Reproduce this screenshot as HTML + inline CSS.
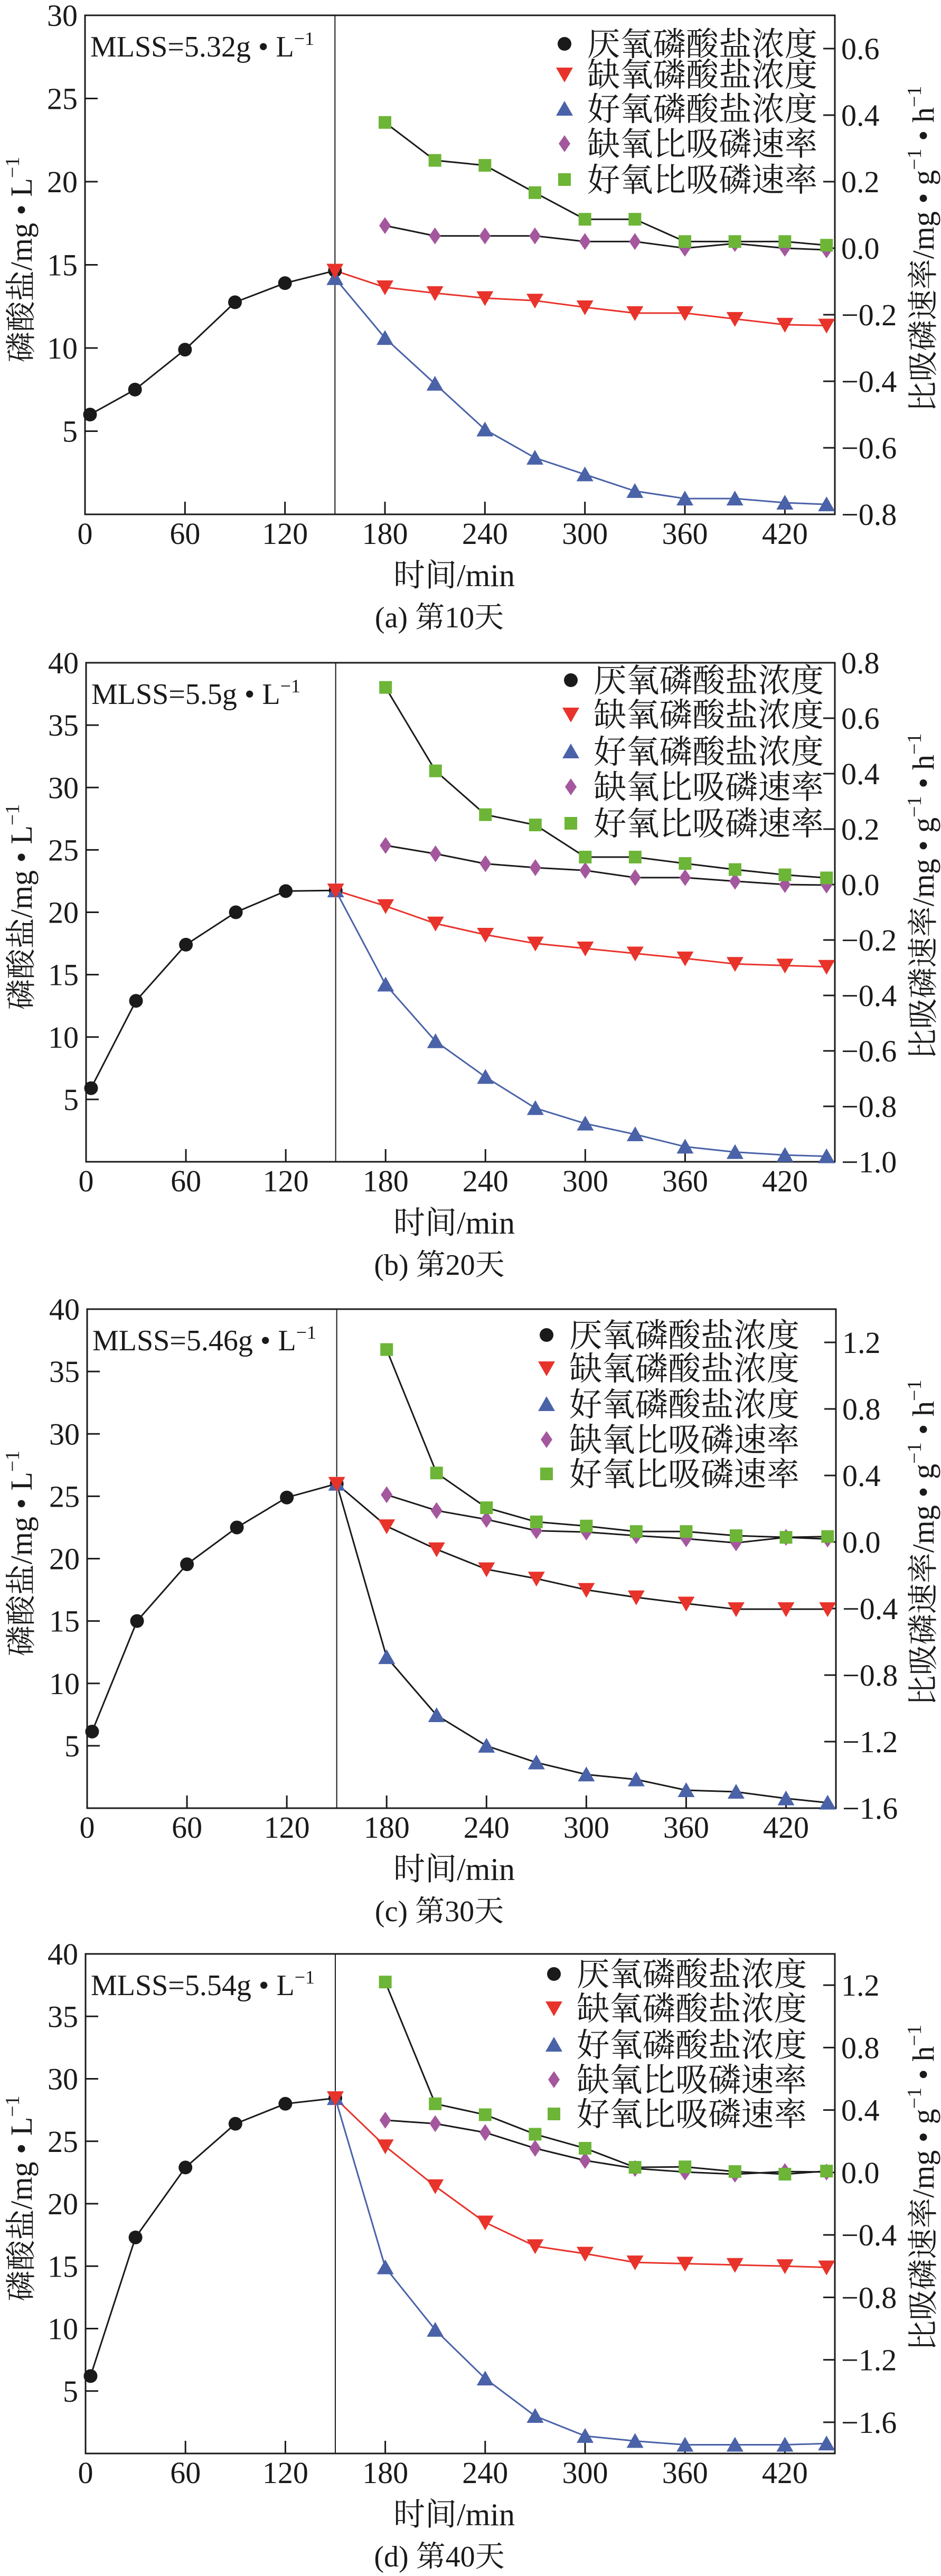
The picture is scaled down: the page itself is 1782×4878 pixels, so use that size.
<!DOCTYPE html>
<html><head><meta charset="utf-8">
<style>
html,body{margin:0;padding:0;background:#fff;}
svg{display:block;}
text{font-family:"Liberation Serif","Noto Serif CJK SC","Noto Sans CJK SC",serif;fill:#1a1a1a;}
</style></head>
<body>
<svg id="fig" xmlns="http://www.w3.org/2000/svg" width="1782" height="4878" viewBox="0 0 1782 4878"></svg>
<script>
// ---- shared data ----
const timeAnaerobic = [3, 30, 60, 90, 120, 150];
const timePost = [150, 180, 210, 240, 270, 300, 330, 360, 390, 420, 445];
const timeRate = [180, 210, 240, 270, 300, 330, 360, 390, 420, 445];
const xTicks = [0, 60, 120, 180, 240, 300, 360, 420];

// ---- panel (a) day 10 ----
const aAnaerobic = [6.0, 7.5, 9.9, 12.75, 13.9, 14.65];
const aAnoxic = [14.65, 13.65, 13.3, 13.0, 12.85, 12.45, 12.1, 12.1, 11.75, 11.4, 11.35];
const aAerobic = [14.2, 10.6, 7.85, 5.1, 3.4, 2.4, 1.4, 0.95, 0.95, 0.7, 0.6];
const aAnoxicRate = [0.068, 0.037, 0.037, 0.037, 0.02, 0.02, 0.0, 0.014, 0.0, -0.005];
const aAerobicRate = [0.378, 0.264, 0.249, 0.167, 0.087, 0.087, 0.02, 0.02, 0.02, 0.009];
const aLeftTicks = [5, 10, 15, 20, 25, 30];
const aRightTicks = ["0.6", "0.4", "0.2", "0.0", "-0.2", "-0.4", "-0.6", "-0.8"];

// ---- panel (b) day 20 ----
const bAnaerobic = [5.9, 12.9, 17.4, 20.0, 21.7, 21.75];
const bAnoxic = [21.75, 20.5, 19.1, 18.2, 17.5, 17.1, 16.7, 16.3, 15.86, 15.73, 15.63];
const bAerobic = [21.75, 14.2, 9.66, 6.8, 4.3, 3.06, 2.2, 1.21, 0.78, 0.54, 0.44];
const bAnoxicRate = [0.141, 0.111, 0.075, 0.061, 0.051, 0.025, 0.025, 0.012, 0.0, -0.002];
const bAerobicRate = [0.711, 0.41, 0.252, 0.215, 0.099, 0.099, 0.076, 0.054, 0.035, 0.024];
const bLeftTicks = [5, 10, 15, 20, 25, 30, 35, 40];
const bRightTicks = ["0.8", "0.6", "0.4", "0.2", "0.0", "-0.2", "-0.4", "-0.6", "-0.8", "-1.0"];

// ---- panel (c) day 30 ----
const cAnaerobic = [6.14, 15.0, 19.55, 22.5, 24.9, 26.0];
const cAnoxic = [26.0, 22.6, 20.75, 19.15, 18.4, 17.5, 16.9, 16.4, 15.95, 15.95, 15.95];
const cAerobic = [26.0, 12.1, 7.45, 5.0, 3.66, 2.7, 2.3, 1.44, 1.31, 0.78, 0.44];
const cAnoxicRate = [0.284, 0.189, 0.136, 0.068, 0.06, 0.038, 0.02, -0.005, 0.028, 0.018];
const cAerobicRate = [1.157, 0.415, 0.206, 0.121, 0.096, 0.063, 0.063, 0.038, 0.028, 0.033];
const cLeftTicks = [5, 10, 15, 20, 25, 30, 35, 40];
const cRightTicks = ["1.2", "0.8", "0.4", "0.0", "-0.4", "-0.8", "-1.2", "-1.6"];

// ---- panel (d) day 40 ----
const dAnaerobic = [6.2, 17.3, 22.9, 26.4, 28.0, 28.45];
const dAnoxic = [28.45, 24.6, 21.4, 18.5, 16.6, 16.0, 15.3, 15.2, 15.1, 15.0, 14.9];
const dAerobic = [28.45, 14.9, 9.9, 6.0, 3.0, 1.4, 1.0, 0.7, 0.7, 0.7, 0.8];
const dAnoxicRate = [0.335, 0.313, 0.256, 0.155, 0.077, 0.026, 0.003, -0.011, 0.006, 0.003];
const dAerobicRate = [1.22, 0.44, 0.37, 0.245, 0.155, 0.033, 0.036, 0.006, -0.011, 0.009];
const dLeftTicks = [5, 10, 15, 20, 25, 30, 35, 40];
const dRightTicks = ["1.2", "0.8", "0.4", "0.0", "-0.4", "-0.8", "-1.2", "-1.6"];

const legendLabels = ["厌氧磷酸盐浓度", "缺氧磷酸盐浓度", "好氧磷酸盐浓度", "缺氧比吸磷速率", "好氧比吸磷速率"];

const RED = "#e8332b", BLUE = "#4a62a8", PURPLE = "#a4579d", GREEN = "#6cb537", BLACK = "#1a1a1a";

const panels = [
  {id:"a", L:161, R:1581, T:29, B:974, yMax:30, rMin:-0.8, rMax:0.7, mlss:"MLSS=5.32g • L", cap:"(a) 第10天",
   ana:aAnaerobic, anox:aAnoxic, aer:aAerobic, anoxR:aAnoxicRate, aerR:aAerobicRate, lt:aLeftTicks, rt:aRightTicks,
   redLine:RED, blueLine:BLUE, legX:1069, legRows:[54,112,177,243,311], legEnd:1548},
  {id:"b", L:163, R:1581, T:1255, B:2200, yMax:40, rMin:-1.0, rMax:0.8, mlss:"MLSS=5.5g • L", cap:"(b) 第20天",
   ana:bAnaerobic, anox:bAnoxic, aer:bAerobic, anoxR:bAnoxicRate, aerR:bAerobicRate, lt:bLeftTicks, rt:bRightTicks,
   redLine:RED, blueLine:BLUE, legX:1081, legRows:[33,98,168,235,304], legEnd:1560},
  {id:"c", L:165, R:1583, T:2479, B:3424, yMax:40, rMin:-1.6, rMax:1.4, mlss:"MLSS=5.46g • L", cap:"(c) 第30天",
   ana:cAnaerobic, anox:cAnoxic, aer:cAerobic, anoxR:cAnoxicRate, aerR:cAerobicRate, lt:cLeftTicks, rt:cRightTicks,
   redLine:BLACK, blueLine:BLACK, legX:1035, legRows:[49,112,180,247,312], legEnd:1514},
  {id:"d", L:162, R:1581, T:3700, B:4646, yMax:40, rMin:-1.8, rMax:1.4, mlss:"MLSS=5.54g • L", cap:"(d) 第40天",
   ana:dAnaerobic, anox:dAnoxic, aer:dAerobic, anoxR:dAnoxicRate, aerR:dAerobicRate, lt:dLeftTicks, rt:dRightTicks,
   redLine:RED, blueLine:BLUE, legX:1049, legRows:[38,103,172,238,303], legEnd:1528}
];

const svg = document.getElementById("fig");
const NS = "http://www.w3.org/2000/svg";
function mk(tag, attrs, parent){
  const e = document.createElementNS(NS, tag);
  for (const k in attrs) e.setAttribute(k, attrs[k]);
  (parent || svg).appendChild(e);
  return e;
}
function marker(g, kind, cx, cy, color){
  let e;
  if (kind === "circle") e = mk("circle", {cx:cx, cy:cy, r:13, fill:color}, g);
  else if (kind === "down") e = mk("polygon", {points:`${cx-16},${cy-13} ${cx+16},${cy-13} ${cx},${cy+15}`, fill:color}, g);
  else if (kind === "up") e = mk("polygon", {points:`${cx-16},${cy+13} ${cx+16},${cy+13} ${cx},${cy-15}`, fill:color}, g);
  else if (kind === "diamond") e = mk("polygon", {points:`${cx},${cy-16} ${cx+11},${cy} ${cx},${cy+16} ${cx-11},${cy}`, fill:color}, g);
  else e = mk("rect", {x:cx-12, y:cy-12, width:24, height:24, fill:color}, g);
  return e;
}

panels.forEach(p => {
  const g = mk("g", {});
  
  
  const xs = t => p.L + t / 450 * (p.R - p.L);
  const ys = v => p.B - v / p.yMax * (p.B - p.T);
  const yr = v => p.B - (v - p.rMin) / (p.rMax - p.rMin) * (p.B - p.T);

  // frame
  const fr = mk("rect", {x:p.L, y:p.T, width:p.R-p.L, height:p.B-p.T, fill:"none", stroke:BLACK, "stroke-width":3}, g);
  
  

  // x ticks
  xTicks.forEach(t => {
    const x = xs(t);
    if (t > 0) mk("line", {x1:x, y1:p.B, x2:x, y2:p.B-24, stroke:BLACK, "stroke-width":3}, g);
    const tl = mk("text", {x:x, y:p.B+56, "font-size":58, "text-anchor":"middle"}, g);
    tl.textContent = t;
    
    
  });
  // left ticks
  p.lt.forEach(v => {
    const y = ys(v);
    if (v < p.yMax) mk("line", {x1:p.L, y1:y, x2:p.L+24, y2:y, stroke:BLACK, "stroke-width":3}, g);
    const tl = mk("text", {x:p.L-14, y:y+20, "font-size":58, "text-anchor":"end"}, g);
    tl.textContent = v;
    
    
  });
  // right ticks
  p.rt.forEach(s => {
    const v = parseFloat(s);
    const y = yr(v);
    mk("line", {x1:p.R, y1:y, x2:p.R-22, y2:y, stroke:BLACK, "stroke-width":3}, g);
    const tl = mk("text", {x:p.R+12, y:y+20, "font-size":58}, g);
    tl.textContent = s.replace("-", "−");
    
    
  });

  // phase divider
  const dv = mk("line", {x1:xs(150), y1:p.T, x2:xs(150), y2:p.B, stroke:BLACK, "stroke-width":2}, g);
  
  

  // series lines
  const pts = (ts, vs, f) => ts.map((t, i) => xs(t) + "," + f(vs[i])).join(" ");
  mk("polyline", {points:pts(timeRate, p.aerR, yr), fill:"none", stroke:BLACK, "stroke-width":3}, g);
  mk("polyline", {points:pts(timeRate, p.anoxR, yr), fill:"none", stroke:BLACK, "stroke-width":3}, g);
  mk("polyline", {points:pts(timeAnaerobic, p.ana, ys), fill:"none", stroke:BLACK, "stroke-width":3}, g);
  mk("polyline", {points:pts(timePost, p.anox, ys), fill:"none", stroke:p.redLine, "stroke-width":3}, g);
  mk("polyline", {points:pts(timePost, p.aer, ys), fill:"none", stroke:p.blueLine, "stroke-width":3}, g);

  // markers
  timeAnaerobic.forEach((t, i) => {
    const m = marker(g, "circle", xs(t), ys(p.ana[i]), BLACK);
    
    
  });
  timePost.forEach((t, i) => {
    const m = marker(g, "up", xs(t), ys(p.aer[i]), BLUE);
    
    
  });
  timePost.forEach((t, i) => {
    const m = marker(g, "down", xs(t), ys(p.anox[i]), RED);
    
    
  });
  timeRate.forEach((t, i) => {
    const m = marker(g, "diamond", xs(t), yr(p.anoxR[i]), PURPLE);
    
    
  });
  timeRate.forEach((t, i) => {
    const m = marker(g, "square", xs(t), yr(p.aerR[i]), GREEN);
    
    
  });

  // MLSS annotation
  const ml = mk("text", {x:p.L+10, y:p.T+78, "font-size":56}, g);
  ml.textContent = p.mlss;
  const sup = mk("tspan", {"font-size":36, dy:-22}, ml);
  sup.textContent = "−1";
  
  

  // legend
  const kinds = ["circle", "down", "up", "diamond", "square"];
  const cols = [BLACK, RED, BLUE, PURPLE, GREEN];
  const lg = mk("g", {}, g);
  
  
  legendLabels.forEach((lab, i) => {
    const cy = p.T + p.legRows[i];
    const mm = marker(lg, kinds[i], p.legX, cy, cols[i]);
    
    
    const t = mk("text", {x:p.legEnd, y:cy+22, "font-size":62, "text-anchor":"end", textLength:436, lengthAdjust:"spacingAndGlyphs"}, lg);
    t.textContent = lab;
    
    
  });

  // axis titles
  const cyMid = (p.T + p.B) / 2;
  const yt = mk("text", {x:0, y:0, "font-size":58, "text-anchor":"middle", transform:`translate(60,${cyMid - 10}) rotate(-90)`}, g);
  yt.textContent = "磷酸盐/mg • L";
  const ys1 = mk("tspan", {"font-size":38, dy:-24}, yt); ys1.textContent = "−1";
  
  

  const rt = mk("text", {x:0, y:0, "font-size":58, "text-anchor":"middle", transform:`translate(1768,${cyMid - 30}) rotate(-90)`}, g);
  rt.textContent = "比吸磷速率/mg • g";
  const r1 = mk("tspan", {"font-size":38, dy:-24}, rt); r1.textContent = "−1";
  const r2 = mk("tspan", {dy:24}, rt); r2.textContent = " • h";
  const r3 = mk("tspan", {"font-size":38, dy:-24}, rt); r3.textContent = "−1";
  
  

  const xt = mk("text", {x:860, y:p.B+136, "font-size":60, "text-anchor":"middle"}, g);
  xt.textContent = "时间/min";
  
  

  const cp = mk("text", {x:832, y:p.B+214, "font-size":56, "text-anchor":"middle"}, g);
  cp.textContent = p.cap;
  
  
});
</script>
</body></html>
